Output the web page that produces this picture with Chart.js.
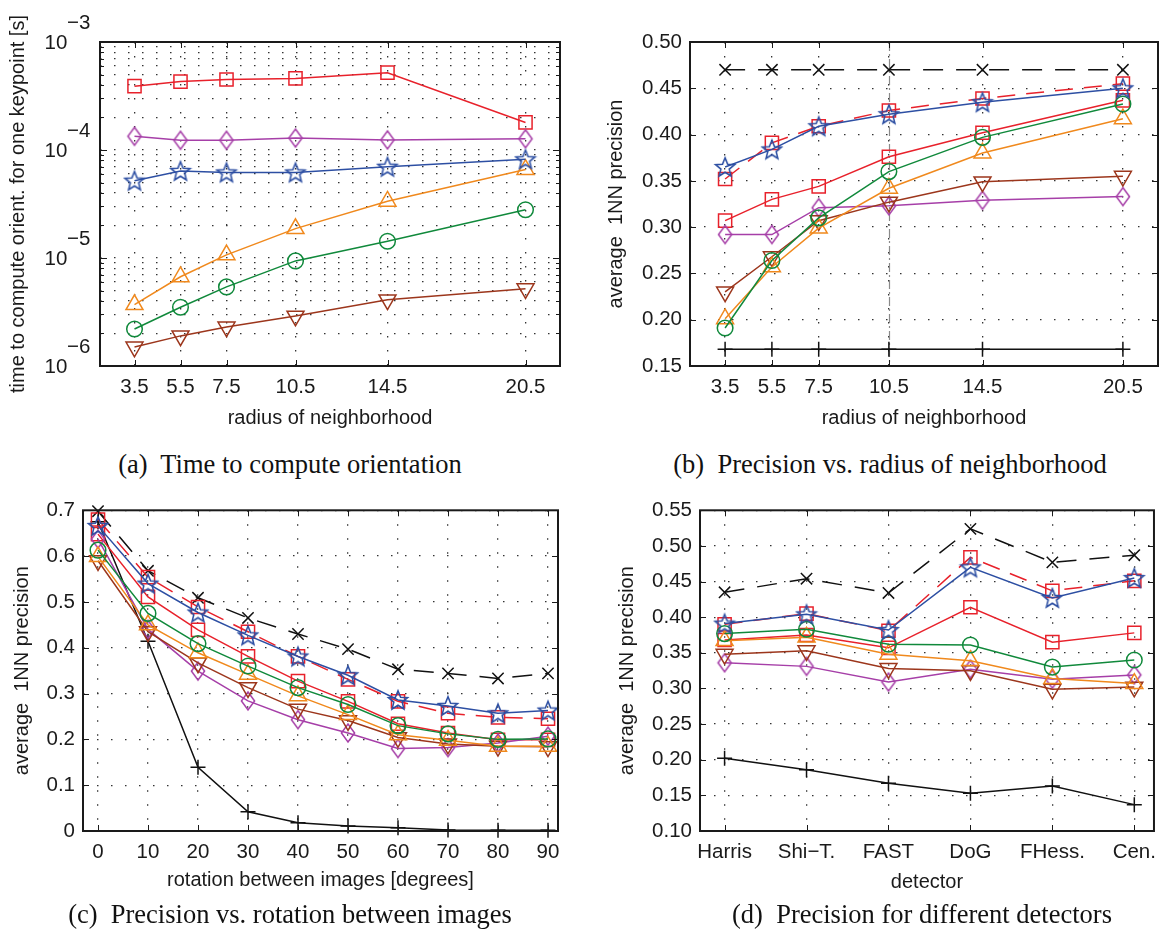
<!DOCTYPE html>
<html>
<head>
<meta charset="utf-8">
<script src="https://cdn.jsdelivr.net/npm/chart.js@4.4.1/dist/chart.umd.min.js"></script>
<style>
  html, body { margin: 0; padding: 0; background: #fff; width: 1165px; height: 942px; overflow: hidden; }
  .panel { position: absolute; }
  .cap {
    position: absolute; white-space: nowrap; transform: translateX(-50%);
    font-family: "Liberation Serif", "DejaVu Serif", serif; font-size: 26.5px; color: #111;
  }
</style>
</head>
<body>
<div class="panel" style="left:0;top:0"><canvas id="chartA"></canvas></div>
<div class="panel" style="left:580px;top:0"><canvas id="chartB"></canvas></div>
<div class="panel" style="left:0;top:490px"><canvas id="chartC"></canvas></div>
<div class="panel" style="left:580px;top:490px"><canvas id="chartD"></canvas></div>

<div class="cap" style="left:290px;top:449px">(a)&nbsp; Time to compute orientation</div>
<div class="cap" style="left:890px;top:449px">(b)&nbsp; Precision vs. radius of neighborhood</div>
<div class="cap" style="left:290px;top:899px">(c)&nbsp; Precision vs. rotation between images</div>
<div class="cap" style="left:922px;top:899px">(d)&nbsp; Precision for different detectors</div>

<script>
// ---- data ----
// (a) time to compute orientation for one keypoint [s]
const radius = [3.5, 5.5, 7.5, 10.5, 14.5, 20.5];
const timeTickPowers = [-6, -5, -4, -3];
const timeSq = [3.9e-4, 4.3e-4, 4.5e-4, 4.6e-4, 5.2e-4, 1.8e-4];
const timeDiamond = [1.34e-4, 1.23e-4, 1.23e-4, 1.29e-4, 1.24e-4, 1.27e-4];
const timeStar = [5.2e-5, 6.4e-5, 6.2e-5, 6.2e-5, 7.0e-5, 8.2e-5];
const timeTriUp = [3.7e-6, 6.7e-6, 1.07e-5, 1.87e-5, 3.35e-5, 6.6e-5];
const timeCircle = [2.2e-6, 3.5e-6, 5.4e-6, 9.4e-6, 1.43e-5, 2.8e-5];
const timeTriDown = [1.5e-6, 1.9e-6, 2.3e-6, 2.9e-6, 4.1e-6, 5.2e-6];

// (b) precision vs radius of neighborhood
const precTicksB = [0.15, 0.20, 0.25, 0.30, 0.35, 0.40, 0.45, 0.50];
const radPlus = [0.168, 0.168, 0.168, 0.168, 0.168, 0.168];
const radCross = [0.470, 0.470, 0.470, 0.470, 0.470, 0.470];
const radSqDash = [0.352, 0.391, 0.409, 0.426, 0.439, 0.455];
const radStar = [0.365, 0.384, 0.409, 0.422, 0.435, 0.450];
const radSq = [0.307, 0.330, 0.344, 0.376, 0.402, 0.437];
const radCircle = [0.191, 0.264, 0.310, 0.360, 0.397, 0.433];
const radTriUp = [0.201, 0.257, 0.299, 0.342, 0.380, 0.417];
const radTriDown = [0.230, 0.268, 0.307, 0.327, 0.349, 0.355];
const radDiamond = [0.292, 0.292, 0.321, 0.323, 0.329, 0.333];

// (c) precision vs rotation between images
const rotation = [0, 10, 20, 30, 40, 50, 60, 70, 80, 90];
const precTicksC = [0, 0.1, 0.2, 0.3, 0.4, 0.5, 0.6, 0.7];
const rotPlus = [0.675, 0.414, 0.139, 0.042, 0.018, 0.011, 0.007, 0.002, 0.0015, 0.0015];
const rotCross = [0.698, 0.568, 0.509, 0.465, 0.430, 0.397, 0.353, 0.344, 0.333, 0.344];
const rotSqDash = [0.680, 0.554, 0.489, 0.435, 0.381, 0.331, 0.283, 0.257, 0.248, 0.245];
const rotStar = [0.666, 0.540, 0.477, 0.427, 0.381, 0.340, 0.286, 0.273, 0.257, 0.263];
const rotSq = [0.648, 0.511, 0.439, 0.381, 0.327, 0.283, 0.234, 0.214, 0.199, 0.199];
const rotCircle = [0.613, 0.475, 0.409, 0.360, 0.313, 0.276, 0.230, 0.212, 0.200, 0.201];
const rotTriUp = [0.599, 0.450, 0.389, 0.342, 0.295, 0.254, 0.210, 0.198, 0.185, 0.185];
const rotTriDown = [0.590, 0.435, 0.367, 0.313, 0.266, 0.241, 0.204, 0.190, 0.185, 0.184];
const rotDiamond = [0.637, 0.440, 0.349, 0.284, 0.243, 0.214, 0.180, 0.182, 0.192, 0.207];

// (d) precision for different detectors
const detectors = ['Harris', 'Shi\u2212T.', 'FAST', 'DoG', 'FHess.', 'Cen.'];
const precTicksD = [0.10, 0.15, 0.20, 0.25, 0.30, 0.35, 0.40, 0.45, 0.50, 0.55];
const detPlus = [0.202, 0.186, 0.167, 0.153, 0.163, 0.137];
const detCross = [0.435, 0.454, 0.434, 0.524, 0.477, 0.487];
const detSqDash = [0.390, 0.405, 0.381, 0.484, 0.437, 0.451];
const detStar = [0.391, 0.404, 0.382, 0.470, 0.427, 0.455];
const detSq = [0.368, 0.375, 0.357, 0.414, 0.365, 0.378];
const detCircle = [0.377, 0.383, 0.362, 0.361, 0.330, 0.340];
const detTriUp = [0.367, 0.372, 0.348, 0.339, 0.314, 0.307];
const detTriDown = [0.348, 0.353, 0.328, 0.325, 0.299, 0.302];
const detDiamond = [0.336, 0.331, 0.309, 0.327, 0.313, 0.319];

// ---- styling ----
const FONT = "'Liberation Sans', Arial, sans-serif";
const TXT = '#1a1a1a';
const RED = '#e8212b', BLUE = '#2d4fa3', GREEN = '#10893b', ORANGE = '#f0891d',
      BROWN = '#9c361c', MAGENTA = '#a63fa8', BLACK = '#111111';

function starImg(color) {
  const c = document.createElement('canvas');
  c.width = 24; c.height = 24;
  const g = c.getContext('2d');
  g.beginPath();
  for (let i = 0; i < 10; i++) {
    const r = i % 2 ? 4.4 : 10;
    const a = -Math.PI / 2 + i * Math.PI / 5;
    g.lineTo(12 + r * Math.cos(a), 12.8 + r * Math.sin(a));
  }
  g.closePath();
  g.strokeStyle = color; g.lineWidth = 1.6; g.stroke();
  return c;
}
function diamondImg(color) {
  const c = document.createElement('canvas');
  c.width = 18; c.height = 22;
  const g = c.getContext('2d');
  g.beginPath();
  g.moveTo(9, 2); g.lineTo(15.6, 11); g.lineTo(9, 20); g.lineTo(2.4, 11); g.closePath();
  g.strokeStyle = color; g.lineWidth = 1.5; g.stroke();
  return c;
}

const ST = {
  star:    { color: BLUE, point: starImg(BLUE), r: 9 },
  circle:  { color: GREEN, point: 'circle', r: 7.8 },
  triUp:   { color: ORANGE, point: 'triangle', r: 9.8 },
  triDown: { color: BROWN, point: 'triangle', r: 9.8, rot: 180 },
  diamond: { color: MAGENTA, point: diamondImg(MAGENTA), r: 9 },
  sq:      { color: RED, point: 'rect', r: 9.3 },
  sqDash:  { color: RED, point: 'rect', r: 9.3, dash: [18, 11] },
  cross:   { color: BLACK, point: 'crossRot', r: 8, dash: [20, 13] },
  plus:    { color: BLACK, point: 'cross', r: 7.5 },
};

function ds(xs, ys, st) {
  return {
    data: ys.map((v, i) => ({ x: xs[i], y: v })),
    borderColor: st.color, backgroundColor: 'rgba(0,0,0,0)',
    borderWidth: 1.5, borderDash: st.dash || [],
    pointStyle: st.point, pointRadius: st.r, pointRotation: st.rot || 0,
    pointBorderColor: st.color, pointBorderWidth: 1.5,
    pointBackgroundColor: 'rgba(0,0,0,0)',
    tension: 0, fill: false, clip: 12
  };
}

// box, inner ticks, log labels, extra vertical line
const frame = {
  id: 'frame',
  beforeDatasetsDraw(chart, args, o) {
    if (o.vline === undefined || o.vline === null) return;
    const { ctx, chartArea: a } = chart;
    const p = Math.round(chart.scales.x.getPixelForValue(o.vline)) + 0.5;
    ctx.save();
    ctx.strokeStyle = '#8a8a8a'; ctx.lineWidth = 1.2;
    ctx.setLineDash([9, 3, 2, 3]);
    ctx.beginPath(); ctx.moveTo(p, a.top); ctx.lineTo(p, a.bottom); ctx.stroke();
    ctx.restore();
  },
  afterDraw(chart, args, o) {
    const { ctx, chartArea: a } = chart;
    const sx = chart.scales.x, sy = chart.scales.y;
    ctx.save();
    ctx.strokeStyle = TXT; ctx.lineWidth = 1;
    ctx.beginPath();
    sx.ticks.forEach(t => {
      const p = Math.round(sx.getPixelForValue(t.value)) + 0.5;
      ctx.moveTo(p, a.bottom); ctx.lineTo(p, a.bottom - 6);
      ctx.moveTo(p, a.top); ctx.lineTo(p, a.top + 6);
    });
    sy.ticks.forEach(t => {
      const p = Math.round(sy.getPixelForValue(t.value)) + 0.5;
      let len = 6;
      if (o.log) {
        const e = Math.log10(t.value);
        len = Math.abs(e - Math.round(e)) < 1e-6 ? 7 : 4;
      }
      ctx.moveTo(a.left, p); ctx.lineTo(a.left + len, p);
      ctx.moveTo(a.right, p); ctx.lineTo(a.right - len, p);
    });
    ctx.stroke();
    ctx.lineWidth = 2;
    ctx.strokeRect(a.left, a.top, a.right - a.left, a.bottom - a.top);
    if (o.log) {
      ctx.fillStyle = TXT;
      ctx.font = '20.5px ' + FONT;
      ctx.textBaseline = 'middle';
      o.powers.forEach(e => {
        const y = sy.getPixelForValue(Math.pow(10, e));
        ctx.textAlign = 'center';
        ctx.fillText('10', 56, y + 1);
        ctx.textAlign = 'left';
        ctx.fillText('\u2212' + Math.abs(e), 67, y - 19);
      });
    }
    ctx.restore();
  }
};
Chart.register(frame);

function makeChart(id, W, H, area, cfg) {
  const canvas = document.getElementById(id);
  canvas.width = W; canvas.height = H;
  canvas.style.width = W + 'px'; canvas.style.height = H + 'px';
  const tickFont = { family: FONT, size: 20.5 };
  const titleFont = { family: FONT, size: 20 };
  const grid = { color: '#333333', lineWidth: 1.3, drawTicks: false };
  const border = { display: false, dash: [1.5, 12.5] };
  return new Chart(canvas, {
    type: 'line',
    data: { datasets: cfg.datasets },
    options: {
      responsive: false, animation: false, devicePixelRatio: 1, events: [],
      layout: { autoPadding: false, padding: { left: 0, top: area.top, right: W - area.right, bottom: 0 } },
      plugins: { legend: { display: false }, tooltip: { enabled: false }, frame: cfg.frame || {} },
      scales: {
        x: {
          type: 'linear', min: cfg.xMin, max: cfg.xMax,
          afterBuildTicks: s => { s.ticks = cfg.xTicks.map(v => ({ value: v })); },
          afterFit: s => { s.height = H - area.bottom; },
          grid, border,
          ticks: { font: tickFont, color: TXT, padding: 9, maxRotation: 0, autoSkip: false,
                   callback: cfg.xFmt },
          title: { display: true, text: cfg.xTitle, font: titleFont, color: TXT,
                   padding: { top: 0, bottom: cfg.xTitlePad } }
        },
        y: {
          type: cfg.yType || 'linear', min: cfg.yMin, max: cfg.yMax,
          afterBuildTicks: s => { s.ticks = cfg.yTicks.map(v => ({ value: v })); },
          afterFit: s => { s.width = area.left; },
          grid, border,
          ticks: { font: tickFont, color: TXT, padding: 8, autoSkip: false, callback: cfg.yFmt },
          title: { display: true, text: cfg.yTitle, font: titleFont, color: TXT,
                   padding: { top: cfg.yTitlePad, bottom: 0 } }
        }
      }
    }
  });
}

// (a)
const logTicks = [];
timeTickPowers.forEach(e => {
  const steps = e === timeTickPowers[timeTickPowers.length - 1] ? [1] : [1, 2, 3, 4, 5, 6, 7, 8, 9];
  steps.forEach(m => logTicks.push(m * Math.pow(10, e)));
});
makeChart('chartA', 580, 445, { left: 100, top: 42, right: 560, bottom: 366 }, {
  datasets: [
    ds(radius, timeStar, ST.star), ds(radius, timeCircle, ST.circle), ds(radius, timeTriUp, ST.triUp),
    ds(radius, timeTriDown, ST.triDown), ds(radius, timeDiamond, ST.diamond), ds(radius, timeSq, ST.sq)
  ],
  xMin: 2, xMax: 22, xTicks: radius, xFmt: v => String(v),
  yType: 'logarithmic', yMin: 1e-6, yMax: 1e-3, yTicks: logTicks, yFmt: () => '',
  xTitle: 'radius of neighborhood', yTitle: 'time to compute orient. for one keypoint [s]',
  xTitlePad: 15, yTitlePad: 6,
  frame: { log: true, powers: timeTickPowers }
});

// (b)
makeChart('chartB', 585, 445, { left: 110, top: 42, right: 578, bottom: 366 }, {
  datasets: [
    ds(radius, radStar, ST.star), ds(radius, radCircle, ST.circle), ds(radius, radTriUp, ST.triUp),
    ds(radius, radTriDown, ST.triDown), ds(radius, radDiamond, ST.diamond), ds(radius, radSq, ST.sq),
    ds(radius, radSqDash, ST.sqDash), ds(radius, radCross, ST.cross), ds(radius, radPlus, ST.plus)
  ],
  xMin: 2, xMax: 22, xTicks: radius, xFmt: v => String(v),
  yMin: 0.15, yMax: 0.50, yTicks: precTicksB, yFmt: v => v.toFixed(2),
  xTitle: 'radius of neighborhood', yTitle: 'average  1NN precision',
  xTitlePad: 15, yTitlePad: 24,
  frame: { vline: 10.5 }
});

// (c)
makeChart('chartC', 580, 410, { left: 83, top: 18, right: 558, bottom: 341 }, {
  datasets: [
    ds(rotation, rotStar, ST.star), ds(rotation, rotCircle, ST.circle), ds(rotation, rotTriUp, ST.triUp),
    ds(rotation, rotTriDown, ST.triDown), ds(rotation, rotDiamond, ST.diamond), ds(rotation, rotSq, ST.sq),
    ds(rotation, rotSqDash, ST.sqDash), ds(rotation, rotCross, ST.cross), ds(rotation, rotPlus, ST.plus)
  ],
  xMin: -3, xMax: 92, xTicks: rotation, xFmt: v => String(v),
  yMin: 0, yMax: 0.7, yTicks: precTicksC, yFmt: v => (v === 0 ? '0' : v.toFixed(1)),
  xTitle: 'rotation between images [degrees]', yTitle: 'average  1NN precision',
  xTitlePad: 8, yTitlePad: 10
});

// (d)
const detIdx = detectors.map((d, i) => i);
makeChart('chartD', 585, 410, { left: 120, top: 20, right: 584, bottom: 341 }, {
  datasets: [
    ds(detIdx, detStar, ST.star), ds(detIdx, detCircle, ST.circle), ds(detIdx, detTriUp, ST.triUp),
    ds(detIdx, detTriDown, ST.triDown), ds(detIdx, detDiamond, ST.diamond), ds(detIdx, detSq, ST.sq),
    ds(detIdx, detSqDash, ST.sqDash), ds(detIdx, detCross, ST.cross), ds(detIdx, detPlus, ST.plus)
  ],
  xMin: -0.3, xMax: 5.24, xTicks: detIdx, xFmt: v => detectors[v],
  yMin: 0.10, yMax: 0.55, yTicks: precTicksD, yFmt: v => v.toFixed(2),
  xTitle: 'detector', yTitle: 'average  1NN precision',
  xTitlePad: 6, yTitlePad: 35
});
</script>
</body>
</html>
